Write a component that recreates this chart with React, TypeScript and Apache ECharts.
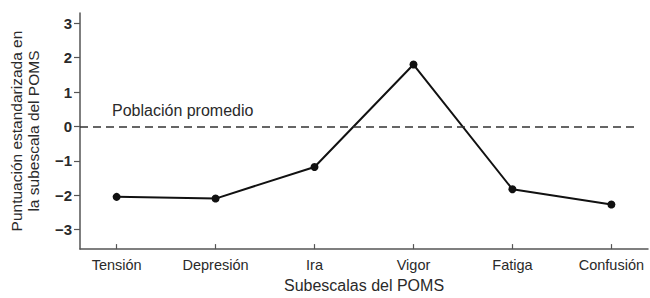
import React, { useEffect, useRef } from "react";
import * as echarts from "echarts";

const categories = ["Tensión", "Depresión", "Ira", "Vigor", "Fatiga", "Confusión"];
const scores = [-2.05, -2.1, -1.18, 1.8, -1.83, -2.27];
const yTicks = [-3, -2, -1, 0, 1, 2, 3];
const referenceLabel = "Población promedio";
const referenceValue = 0;

const FONT = "'Liberation Sans', Arial, sans-serif";
const TEXT = "#2a2a2a";
const AXIS = "#555";

export default function App() {
  const ref = useRef<HTMLDivElement>(null);
  useEffect(() => {
    if (!ref.current) return;
    const chart = echarts.init(ref.current, undefined, { renderer: "svg" });
    const idx = categories.map((_, i) => i);
    chart.setOption({
      animation: false,
      textStyle: { fontFamily: FONT },
      grid: { left: 71, right: 2, top: 13, bottom: 43, containLabel: false },
      xAxis: {
        type: "value",
        min: -0.37,
        max: 5.37,
        name: "Subescalas del POMS",
        nameLocation: "middle",
        nameGap: 25,
        nameTextStyle: { fontSize: 16, color: TEXT, fontFamily: FONT },
        splitLine: { show: false },
        axisLine: { onZero: false, lineStyle: { color: AXIS, width: 1.5 } },
        axisTick: { customValues: idx, inside: true, length: 5, lineStyle: { color: AXIS, width: 1.2 } },
        axisLabel: {
          customValues: idx,
          formatter: (v: number) => categories[Math.round(v)] ?? "",
          fontSize: 14.5,
          color: TEXT,
          margin: 8,
          fontFamily: FONT,
          hideOverlap: false,
        },
      },
      yAxis: {
        type: "value",
        min: -3.57,
        max: 3.3,
        name: "Puntuación estandarizada en\nla subescala del POMS",
        nameLocation: "middle",
        nameRotate: 90,
        nameGap: 38,
        nameTextStyle: { fontSize: 15.5, color: TEXT, fontFamily: FONT, lineHeight: 17 },
        splitLine: { show: false },
        axisLine: { show: true, onZero: false, lineStyle: { color: AXIS, width: 1.5 } },
        axisTick: { show: true, customValues: yTicks, length: 6, lineStyle: { color: AXIS, width: 1.2 } },
        axisLabel: {
          customValues: yTicks,
          formatter: (v: number) => (v < 0 ? "\u2212" + Math.abs(v) : String(v)),
          fontSize: 15,
          color: TEXT,
          margin: 8,
          fontFamily: FONT,
          fontWeight: "bold",
        },
      },
      series: [
        {
          type: "line",
          data: scores.map((v, i) => [i, v]),
          symbol: "circle",
          symbolSize: 8,
          itemStyle: { color: "#111" },
          lineStyle: { color: "#111", width: 2 },
          markLine: {
            silent: true,
            symbol: "none",
            label: { show: false },
            lineStyle: { color: "#333", width: 1.6, type: [8, 5] },
            data: [[{ coord: [-0.37, referenceValue] }, { coord: [5.24, referenceValue] }]],
          },
        },
      ],
      graphic: [
        {
          type: "text",
          left: 112,
          top: 102,
          style: { text: referenceLabel, fontSize: 16, fill: TEXT, fontFamily: FONT },
        },
      ],
    });
    return () => chart.dispose();
  }, []);
  return (
    <div
      ref={ref}
      style={{ position: "fixed", left: 0, top: 0, width: 650, height: 298, background: "#fff" }}
    />
  );
}
